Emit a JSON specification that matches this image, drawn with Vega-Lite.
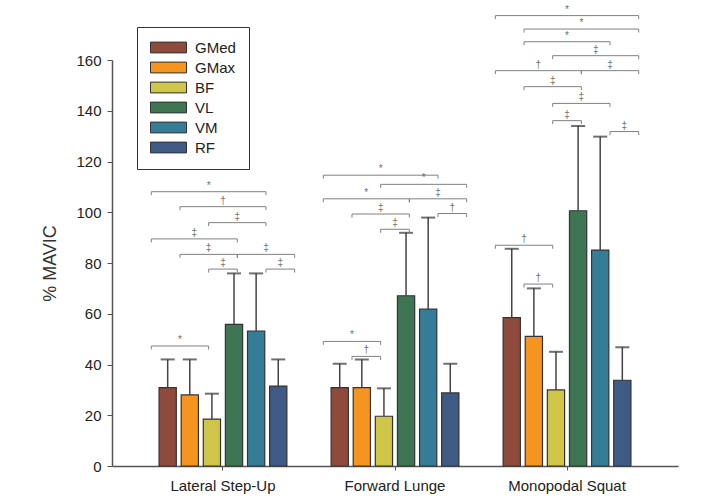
{
  "$schema": "https://vega.github.io/schema/vega-lite/v6.json",
  "width": 566,
  "height": 406,
  "autosize": {"type": "none"},
  "padding": {"left": 112, "top": 60, "right": 41, "bottom": 34},
  "config": {
    "view": {"stroke": null},
    "font": "Liberation Sans",
    "axis": {"grid": false, "domainColor": "#555", "domainWidth": 1.5, "tickColor": "#555", "labelColor": "#222", "titleColor": "#333", "labelFont": "Liberation Sans", "titleFont": "Liberation Sans"}
  },
  "datasets": {
    "bars": [
      {"g": "Lateral Step-Up", "m": "GMed", "mean": 30.9, "hi": 42.0},
      {"g": "Lateral Step-Up", "m": "GMax", "mean": 28.0, "hi": 42.0},
      {"g": "Lateral Step-Up", "m": "BF", "mean": 18.5, "hi": 28.5},
      {"g": "Lateral Step-Up", "m": "VL", "mean": 55.8, "hi": 75.9},
      {"g": "Lateral Step-Up", "m": "VM", "mean": 53.2, "hi": 75.9},
      {"g": "Lateral Step-Up", "m": "RF", "mean": 31.5, "hi": 42.0},
      {"g": "Forward Lunge", "m": "GMed", "mean": 30.9, "hi": 40.3},
      {"g": "Forward Lunge", "m": "GMax", "mean": 30.9, "hi": 42.0},
      {"g": "Forward Lunge", "m": "BF", "mean": 19.6, "hi": 30.6},
      {"g": "Forward Lunge", "m": "VL", "mean": 67.1, "hi": 91.9},
      {"g": "Forward Lunge", "m": "VM", "mean": 61.8, "hi": 97.9},
      {"g": "Forward Lunge", "m": "RF", "mean": 28.8, "hi": 40.3},
      {"g": "Monopodal Squat", "m": "GMed", "mean": 58.5, "hi": 85.6},
      {"g": "Monopodal Squat", "m": "GMax", "mean": 51.1, "hi": 70.0},
      {"g": "Monopodal Squat", "m": "BF", "mean": 30.0, "hi": 45.0},
      {"g": "Monopodal Squat", "m": "VL", "mean": 100.6, "hi": 134.0},
      {"g": "Monopodal Squat", "m": "VM", "mean": 85.1, "hi": 129.8},
      {"g": "Monopodal Squat", "m": "RF", "mean": 33.8, "hi": 46.8}
    ],
    "sig": [
      {"id": 1, "g": "Lateral Step-Up", "a": "GMed", "b": "VM", "mid": "BF", "y": 108.1, "s": "*"},
      {"id": 2, "g": "Lateral Step-Up", "a": "GMax", "b": "VM", "mid": "BF·VL", "y": 102.2, "s": "†"},
      {"id": 3, "g": "Lateral Step-Up", "a": "BF", "b": "VM", "mid": "VL", "y": 95.9, "s": "‡"},
      {"id": 4, "g": "Lateral Step-Up", "a": "GMed", "b": "VL", "mid": "GMax·BF", "y": 89.5, "s": "‡"},
      {"id": 5, "g": "Lateral Step-Up", "a": "GMax", "b": "VL", "mid": "BF", "y": 83.4, "s": "‡"},
      {"id": 6, "g": "Lateral Step-Up", "a": "VL", "b": "RF", "mid": "VM", "y": 83.4, "s": "‡"},
      {"id": 7, "g": "Lateral Step-Up", "a": "BF", "b": "VL", "mid": "BF·VL", "y": 77.6, "s": "‡"},
      {"id": 8, "g": "Lateral Step-Up", "a": "VM", "b": "RF", "mid": "VM·RF", "y": 77.6, "s": "‡"},
      {"id": 9, "g": "Lateral Step-Up", "a": "GMed", "b": "BF", "mid": "GMax", "y": 47.3, "s": "*"},
      {"id": 10, "g": "Forward Lunge", "a": "GMed", "b": "VM", "mid": "BF", "y": 114.6, "s": "*"},
      {"id": 11, "g": "Forward Lunge", "a": "BF", "b": "RF", "mid": "VL·VM", "y": 111.0, "s": "*"},
      {"id": 12, "g": "Forward Lunge", "a": "GMed", "b": "VL", "mid": "GMax·BF", "y": 105.3, "s": "*"},
      {"id": 13, "g": "Forward Lunge", "a": "VL", "b": "RF", "mid": "VM", "y": 105.3, "s": "‡"},
      {"id": 14, "g": "Forward Lunge", "a": "GMax", "b": "VL", "mid": "BF", "y": 99.3, "s": "‡"},
      {"id": 15, "g": "Forward Lunge", "a": "VM", "b": "RF", "mid": "VM·RF", "y": 99.5, "s": "†"},
      {"id": 16, "g": "Forward Lunge", "a": "BF", "b": "VL", "mid": "BF·VL", "y": 93.3, "s": "‡"},
      {"id": 17, "g": "Forward Lunge", "a": "GMed", "b": "BF", "mid": "GMax", "y": 49.1, "s": "*"},
      {"id": 18, "g": "Forward Lunge", "a": "GMax", "b": "BF", "mid": "GMax·BF", "y": 43.2, "s": "†"},
      {"id": 19, "g": "Monopodal Squat", "a": "GMed", "b": "RF", "mid": "BF·VL", "y": 177.5, "s": "*"},
      {"id": 20, "g": "Monopodal Squat", "a": "GMax", "b": "RF", "mid": "VL", "y": 172.2, "s": "*"},
      {"id": 21, "g": "Monopodal Squat", "a": "GMax", "b": "VM", "mid": "BF·VL", "y": 167.2, "s": "*"},
      {"id": 22, "g": "Monopodal Squat", "a": "BF", "b": "RF", "mid": "VL·VM", "y": 161.7, "s": "‡"},
      {"id": 23, "g": "Monopodal Squat", "a": "GMed", "b": "VL", "mid": "GMax·BF", "y": 155.8, "s": "†"},
      {"id": 24, "g": "Monopodal Squat", "a": "VL", "b": "RF", "mid": "VM", "y": 155.8, "s": "‡"},
      {"id": 25, "g": "Monopodal Squat", "a": "GMax", "b": "VL", "mid": "BF", "y": 149.5, "s": "‡"},
      {"id": 26, "g": "Monopodal Squat", "a": "BF", "b": "VM", "mid": "VL", "y": 142.9, "s": "‡"},
      {"id": 27, "g": "Monopodal Squat", "a": "BF", "b": "VL", "mid": "BF·VL", "y": 136.1, "s": "‡"},
      {"id": 28, "g": "Monopodal Squat", "a": "VM", "b": "RF", "mid": "VM·RF", "y": 131.8, "s": "‡"},
      {"id": 29, "g": "Monopodal Squat", "a": "GMed", "b": "BF", "mid": "GMax", "y": 87.0, "s": "†"},
      {"id": 30, "g": "Monopodal Squat", "a": "GMax", "b": "BF", "mid": "GMax·BF", "y": 71.7, "s": "†"}
    ]
  },
  "encoding": {
    "x": {"field": "g", "type": "nominal", "sort": null,
      "scale": {"domain": ["Lateral Step-Up", "Forward Lunge", "Monopodal Squat"], "paddingInner": 0, "paddingOuter": 0.145},
      "axis": {"title": null, "labelAngle": 0, "labelFontSize": 15, "tickSize": 4, "labelPadding": 8}},
    "y": {"type": "quantitative",
      "scale": {"domain": [0, 160], "nice": false, "zero": true},
      "axis": {"title": "% MAVIC", "values": [0, 20, 40, 60, 80, 100, 120, 140, 160], "tickSize": 5, "labelPadding": 6, "labelFontSize": 15, "titleFontSize": 18, "titleFontWeight": "normal", "titlePadding": 16}}
  },
  "layer": [
    {
      "data": {"name": "bars"},
      "mark": {"type": "bar", "stroke": "#333", "strokeWidth": 1.2},
      "encoding": {
        "xOffset": {"field": "m", "type": "nominal", "sort": null,
          "scale": {"type": "band", "domain": ["GMed", "GMax", "BF", "VL", "VM", "RF"], "paddingInner": 0.22, "paddingOuter": 1.285}},
        "y": {"field": "mean", "type": "quantitative"},
        "color": {"field": "m", "type": "nominal", "sort": null,
          "scale": {"domain": ["GMed", "GMax", "BF", "VL", "VM", "RF"], "range": ["#8E4A3B", "#F5951F", "#CFC548", "#3E7553", "#357D97", "#3F5A85"]},
          "legend": {"orient": "none", "legendX": 25, "legendY": -33, "title": null,
            "symbolType": "M-3,-0.9H3V0.9H-3Z", "symbolSize": 144, "symbolStrokeColor": "#333", "symbolStrokeWidth": 1, "symbolOffset": 11,
            "labelOffset": 19, "labelFontSize": 15, "labelColor": "#222", "labelFont": "Liberation Sans",
            "strokeColor": "#333", "fillColor": "white", "padding": 13, "rowPadding": 4}}
      }
    },
    {
      "data": {"name": "bars"},
      "mark": {"type": "rule", "color": "#444", "strokeWidth": 1.5},
      "encoding": {
        "xOffset": {"field": "m", "type": "nominal", "sort": null,
          "scale": {"type": "band", "domain": ["GMed", "GMax", "BF", "VL", "VM", "RF"], "paddingInner": 0.22, "paddingOuter": 1.285}},
        "y": {"field": "mean", "type": "quantitative"},
        "y2": {"field": "hi"}
      }
    },
    {
      "data": {"name": "bars"},
      "mark": {"type": "tick", "color": "#333", "size": 14, "thickness": 2, "orient": "horizontal"},
      "encoding": {
        "xOffset": {"field": "m", "type": "nominal", "sort": null,
          "scale": {"type": "band", "domain": ["GMed", "GMax", "BF", "VL", "VM", "RF"], "paddingInner": 0.22, "paddingOuter": 1.285}},
        "y": {"field": "hi", "type": "quantitative"}
      }
    },
    {
      "data": {"name": "sig"},
      "transform": [{"fold": ["a", "b"], "as": ["end", "mus"]}],
      "mark": {"type": "line", "color": "#808080", "strokeWidth": 1},
      "encoding": {
        "xOffset": {"field": "mus", "type": "nominal", "sort": null,
          "scale": {"type": "point", "domain": ["GMed", "GMed·GMax", "GMax", "GMax·BF", "BF", "BF·VL", "VL", "VL·VM", "VM", "VM·RF", "RF"], "padding": 3.35}},
        "y": {"field": "y", "type": "quantitative"},
        "detail": {"field": "id", "type": "nominal"}
      }
    },
    {
      "data": {"name": "sig"},
      "transform": [{"fold": ["a", "b"], "as": ["end", "mus"]}],
      "mark": {"type": "point", "shape": "M0,0L0,1", "filled": false, "stroke": "#808080", "strokeWidth": 1, "size": 49, "opacity": 1},
      "encoding": {
        "xOffset": {"field": "mus", "type": "nominal", "sort": null,
          "scale": {"type": "point", "domain": ["GMed", "GMed·GMax", "GMax", "GMax·BF", "BF", "BF·VL", "VL", "VL·VM", "VM", "VM·RF", "RF"], "padding": 3.35}},
        "y": {"field": "y", "type": "quantitative"}
      }
    },
    {
      "data": {"name": "sig"},
      "mark": {"type": "text", "fill": "#707070", "fontSize": 10, "baseline": "alphabetic", "dy": -3, "font": "Liberation Sans"},
      "encoding": {
        "xOffset": {"field": "mid", "type": "nominal", "sort": null,
          "scale": {"type": "point", "domain": ["GMed", "GMed·GMax", "GMax", "GMax·BF", "BF", "BF·VL", "VL", "VL·VM", "VM", "VM·RF", "RF"], "padding": 3.35}},
        "y": {"field": "y", "type": "quantitative"},
        "text": {"field": "s"}
      }
    }
  ],
  "resolve": {"scale": {"xOffset": "independent"}}
}
